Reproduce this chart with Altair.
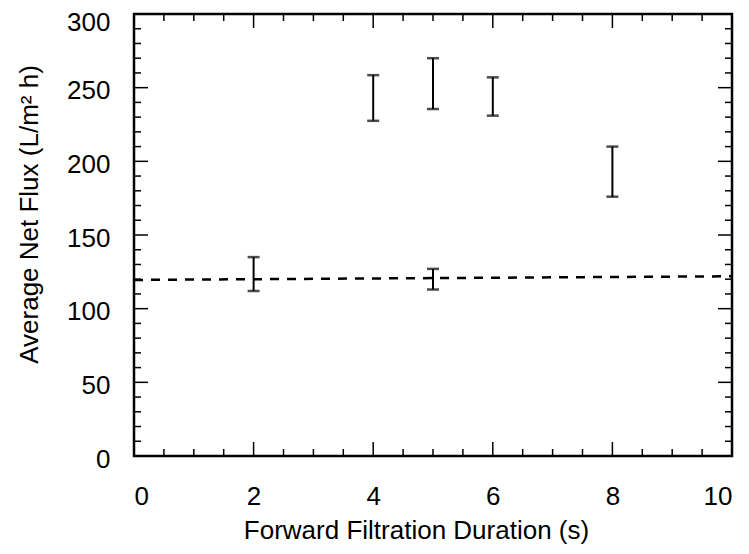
import altair as alt
import pandas as pd

# Error bar data (Forward filtration duration, lower / upper flux)
durations = [2, 4, 5, 6, 8, 5]
flux_low = [112, 227.5, 235.5, 231, 176, 113]
flux_high = [135, 258.5, 270, 257, 210, 127]

# Dashed reference line
line_x = [0, 10]
line_y = [119.5, 122]

# Axis ticks
x_labels = [0, 2, 4, 6, 8, 10]
y_labels = [0, 50, 100, 150, 200, 250, 300]
x_major = [2, 4, 6, 8]
x_minor = [0.5, 1, 1.5, 2.5, 3, 3.5, 4.5, 5, 5.5, 6.5, 7, 7.5, 8.5, 9, 9.5]
y_major = [50, 100, 150, 200, 250]
y_minor = [10, 20, 30, 40, 60, 70, 80, 90, 110, 120, 130, 140, 160, 170, 180, 190,
           210, 220, 230, 240, 260, 270, 280, 290]

W, H = 598, 442
FONT = "Liberation Sans"
FS = 26

xs = alt.Scale(domain=[0, 10], nice=False, zero=False)
ys = alt.Scale(domain=[0, 300], nice=False, zero=False)

x_axis = alt.Axis(
    title="Forward Filtration Duration (s)", values=x_labels, format="d",
    ticks=False, domain=False, grid=False, labelPadding=27, titlePadding=8,
    labelFontSize=FS, titleFontSize=FS, labelFont=FONT, titleFont=FONT,
    labelColor="black", titleColor="black", titleFontWeight="normal",
    titleX=282)
y_axis = alt.Axis(
    title="Average Net Flux (L/m² h)", values=y_labels, format="d",
    ticks=False, domain=False, grid=False, labelPadding=24, titlePadding=24,
    labelFontSize=FS, titleFontSize=FS, labelFont=FONT, titleFont=FONT,
    labelColor="black", titleColor="black", titleFontWeight="normal",
    labelOffset={"condition": {"test": "datum.value == 300", "value": 8}, "value": 3},
    titleY=200)

err_df = pd.DataFrame({"x": durations, "lo": flux_low, "hi": flux_high})
line_df = pd.DataFrame({"x": line_x, "y": line_y})

line = alt.Chart(line_df).mark_line(color="black", strokeWidth=2.5, strokeDash=[9, 8]).encode(
    x=alt.X("x:Q", scale=xs, axis=x_axis),
    y=alt.Y("y:Q", scale=ys, axis=y_axis),
)

err = alt.Chart(err_df).mark_errorbar(
    ticks={"size": 12, "thickness": 2.5, "color": "black"},
    rule={"strokeWidth": 2, "color": "black"},
    color="black",
).encode(
    x=alt.X("x:Q", scale=xs, axis=x_axis),
    y=alt.Y("lo:Q", scale=ys, axis=y_axis),
    y2="hi:Q",
)

def xticks(vals, length):
    d = pd.DataFrame({"x": vals})
    bottom = alt.Chart(d).mark_rule(color="black", strokeWidth=1.5).encode(
        x=alt.X("x:Q", scale=xs, axis=x_axis), y=alt.value(H), y2=alt.value(H - length))
    top = alt.Chart(d).mark_rule(color="black", strokeWidth=1.5).encode(
        x=alt.X("x:Q", scale=xs, axis=x_axis), y=alt.value(0), y2=alt.value(length))
    return [bottom, top]

def yticks(vals, length):
    d = pd.DataFrame({"y": vals})
    left = alt.Chart(d).mark_rule(color="black", strokeWidth=1.5).encode(
        y=alt.Y("y:Q", scale=ys, axis=y_axis), x=alt.value(0), x2=alt.value(length))
    right = alt.Chart(d).mark_rule(color="black", strokeWidth=1.5).encode(
        y=alt.Y("y:Q", scale=ys, axis=y_axis), x=alt.value(W), x2=alt.value(W - length))
    return [left, right]

layers = [line, err] + xticks(x_major, 14) + xticks(x_minor, 7) + yticks(y_major, 14) + yticks(y_minor, 7)

chart = alt.layer(*layers).properties(
    width=W, height=H,
    autosize=alt.AutoSizeParams(type="none"),
    padding={"left": 126, "top": 6, "right": 9, "bottom": 90},
).configure(background="white").configure_view(stroke="black", strokeWidth=2.5)

chart.save("out.html", embed_options={"renderer": "svg", "actions": False})
